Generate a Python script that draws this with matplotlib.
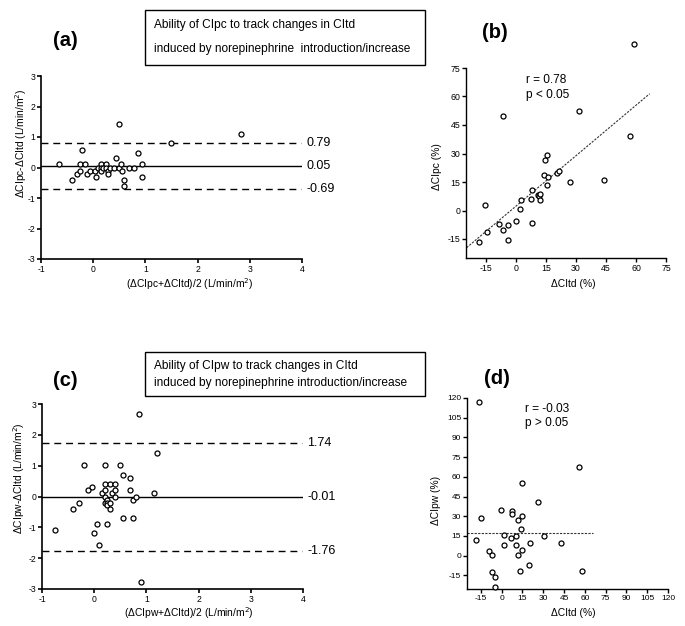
import matplotlib
matplotlib.use("Agg")
import matplotlib.pyplot as plt
from matplotlib.patches import Rectangle

plt.rcParams['font.family'] = ['Liberation Sans', 'DejaVu Sans']
plt.rcParams['axes.unicode_minus'] = False

# ---------------- data ----------------
# (a) Bland-Altman CIpc vs CItd
a_mean = [-0.66, -0.41, -0.31, -0.26, -0.25, -0.21, -0.16, -0.11, -0.06, 0.04,
          0.05, 0.09, 0.14, 0.14, 0.14, 0.19, 0.24, 0.24, 0.28, 0.29,
          0.33, 0.39, 0.44, 0.49, 0.53, 0.55, 0.49, 0.59, 0.59, 0.69,
          0.79, 0.85, 0.94, 0.94, 1.49, 2.84]
a_diff = [0.10, -0.41, -0.20, -0.10, 0.10, 0.59, 0.10, -0.20, -0.10, -0.10,
          -0.30, 0.00, 0.10, 0.00, -0.10, 0.00, 0.10, 0.00, -0.10, -0.20,
          0.00, 0.00, 0.30, 0.00, 0.10, -0.10, 1.41, -0.41, -0.61, 0.00,
          0.00, 0.49, 0.10, -0.30, 0.80, 1.10]
a_bias, a_upper, a_lower = 0.05, 0.79, -0.69

# (b) correlation dCItd vs dCIpc (%)
b_x = [-18.4, -15.7, -14.6, -8.3, -6.5, -6.4, -4.1, -3.9, 0.0, 2.0,
       2.6, 7.5, 8.0, 8.0, 10.8, 11.5, 12.1, 12.1, 13.9, 14.3,
       15.3, 15.4, 15.9, 20.4, 21.6, 26.9, 31.6, 44.0, 56.8, 59.1]
b_y = [-16.4, 3.0, -11.1, -7.3, -10.3, 49.7, -7.8, -15.3, -5.4, 0.9,
       5.4, 6.1, -6.8, 11.0, 7.9, 7.4, 5.4, 8.9, 18.7, 26.7,
       29.1, 13.4, 17.4, 20.0, 20.8, 15.0, 52.6, 16.2, 39.4, 87.5]
b_fit_slope, b_fit_intercept, b_fit_range = 0.885, 2.3, (-24.7, 66.8)
b_r, b_p = "r = 0.78", "p < 0.05"

# (c) Bland-Altman CIpw vs CItd
c_mean = [-0.75, -0.40, -0.30, -0.20, -0.11, -0.05, 0.00, 0.05, 0.10, 0.15,
          0.20, 0.20, 0.20, 0.20, 0.20, 0.25, 0.25, 0.25, 0.25, 0.30,
          0.30, 0.30, 0.34, 0.39, 0.39, 0.39, 0.49, 0.55, 0.55, 0.69,
          0.69, 0.74, 0.74, 0.80, 0.85, 0.90, 1.15, 1.20]
c_diff = [-1.09, -0.40, -0.20, 1.01, 0.21, 0.31, -1.19, -0.89, -1.58, 0.11,
          0.21, 0.41, 1.01, 0.00, -0.20, -0.10, -0.20, -0.29, -0.89, 0.41,
          -0.20, -0.39, 0.11, 0.41, 0.21, 0.00, 1.01, 0.69, -0.69, 0.60,
          0.21, -0.10, -0.69, 0.00, 2.69, -2.78, 0.11, 1.40]
c_bias, c_upper, c_lower = -0.01, 1.74, -1.76

# (d) correlation dCItd vs dCIpw (%)
d_x = [-16.5, -15.1, -18.6, -8.9, -7.0, -7.0, -4.9, -4.9, -0.5, 1.4,
       1.8, 6.5, 7.2, 7.2, 10.3, 10.6, 11.5, 11.5, 13.2, 13.9,
       14.6, 14.9, 15.0, 19.6, 20.8, 26.1, 30.6, 42.8, 55.7, 58.1]
d_y = [117.3, 28.4, 11.9, 3.8, 0.2, -12.4, -16.5, -23.8, 35.0, 16.0,
       8.1, 13.5, 34.0, 32.0, 15.2, 7.9, 26.9, 0.2, -11.7, 20.5,
       30.2, 4.3, 55.1, -6.9, 9.9, 40.6, 15.2, 9.5, 67.5, -11.9]
d_fit_slope, d_fit_intercept, d_fit_range = 0.0, 17.3, (-25.0, 65.8)
d_r, d_p = "r = -0.03", "p > 0.05"

ba_xticks = [-1, 0, 1, 2, 3, 4]
ba_yticks = [-3, -2, -1, 0, 1, 2, 3]
b_ticks = [-15, 0, 15, 30, 45, 60, 75]
d_xticks = [-15, 0, 15, 30, 45, 60, 75, 90, 105, 120]
d_yticks = [-15, 0, 15, 30, 45, 60, 75, 90, 105, 120]

# ---------------- figure ----------------
W, H = 685, 626
fig = plt.figure(figsize=(W / 100, H / 100), dpi=100)


def rect(l, t, r, b):
    return [l / W, 1 - b / H, (r - l) / W, (b - t) / H]


def fpos(x, y):
    return (x / W, 1 - y / H)


def style(ax, lw=1.2, ls=6.2):
    for s in ['top', 'right']:
        ax.spines[s].set_visible(False)
    for s in ['left', 'bottom']:
        ax.spines[s].set_linewidth(lw)
    ax.tick_params(direction='out', length=3, width=lw, labelsize=ls, pad=1.2, colors='black')


mk = dict(marker='o', linestyle='none', markersize=3.6, markerfacecolor='white',
          markeredgecolor='black', markeredgewidth=0.9)


def bland(ax, xs, ys, bias, up, lo):
    ax.plot(xs, ys, clip_on=False, zorder=3, **mk)
    ax.plot([-1, 3.98], [bias, bias], color='black', lw=1.0)
    for v in (up, lo):
        ax.plot([-1, 3.98], [v, v], color='black', lw=1.0, linestyle=(0, (5, 3.5)))
    ax.set_xlim(-1, 4)
    ax.set_ylim(-3, 3)
    ax.set_xticks(ba_xticks)
    ax.set_yticks(ba_yticks)
    style(ax)
    for v in (up, bias, lo):
        ax.text(4.08, v, f"{v:.2f}", fontsize=9, va='center', ha='left', clip_on=False)


# (a)
axa = fig.add_axes(rect(41, 76, 302, 259))
bland(axa, a_mean, a_diff, a_bias, a_upper, a_lower)
fig.text(*fpos(21, 143), "ΔCIpc-ΔCItd (L/min/m$^2$)", rotation=90, fontsize=7.4,
         ha='center', va='center')
fig.text(*fpos(190, 284), "(ΔCIpc+ΔCItd)/2 (L/min/m$^2$)", fontsize=7.4, ha='center', va='center')

# (c)
axc = fig.add_axes(rect(42, 404, 303, 589))
bland(axc, c_mean, c_diff, c_bias, c_upper, c_lower)
fig.text(*fpos(19, 478), "ΔCIpw-ΔCItd (L/min/m$^2$)", rotation=90, fontsize=7.4,
         ha='center', va='center')
fig.text(*fpos(189, 613), "(ΔCIpw+ΔCItd)/2 (L/min/m$^2$)", fontsize=7.4, ha='center', va='center')

# (b)
axb = fig.add_axes(rect(466, 68, 666, 258))
axb.plot(b_x, b_y, clip_on=False, zorder=3, **mk)
xs = list(b_fit_range)
axb.plot(xs, [b_fit_slope * v + b_fit_intercept for v in xs], color='#333333', lw=0.8,
         linestyle=(0, (2, 1.2)))
axb.set_xlim(-25, 75)
axb.set_ylim(-25, 75)
axb.set_xticks(b_ticks)
axb.set_yticks(b_ticks)
style(axb, 1.0, 6.3)
axb.text(5.2, 68.5, b_r, fontsize=8.6, va='center')
axb.text(5.2, 61.0, b_p, fontsize=8.6, va='center')
fig.text(*fpos(437, 167), "ΔCIpc (%)", rotation=90, fontsize=7.4, ha='center', va='center')
fig.text(*fpos(573, 284), "ΔCItd (%)", fontsize=7.4, ha='center', va='center')

# (d)
axd = fig.add_axes(rect(467, 398, 668, 589))
axd.plot(d_x, d_y, clip_on=False, zorder=3, **mk)
xs = list(d_fit_range)
axd.plot(xs, [d_fit_slope * v + d_fit_intercept for v in xs], color='#333333', lw=0.8,
         linestyle=(0, (2, 1.2)))
axd.set_xlim(-25, 120)
axd.set_ylim(-25.4, 120)
axd.set_xticks(d_xticks)
axd.set_yticks(d_yticks)
style(axd, 1.0, 6.0)
axd.text(17.2, 111.7, d_r, fontsize=8.6, va='center')
axd.text(17.2, 101.0, d_p, fontsize=8.6, va='center')
fig.text(*fpos(436, 500), "ΔCIpw (%)", rotation=90, fontsize=7.4, ha='center', va='center')
fig.text(*fpos(573, 613), "ΔCItd (%)", fontsize=7.4, ha='center', va='center')

# panel letters
for lab, (x, y) in {"(a)": (65, 41), "(b)": (495, 32), "(c)": (65, 380), "(d)": (497, 378)}.items():
    fig.text(*fpos(x, y), lab, fontsize=14.5, fontweight='bold', ha='center', va='center')


# text boxes
def tbox(top, bottom, l1, y1, l2, y2):
    fig.patches.append(Rectangle(fpos(145, bottom), 280 / W, (bottom - top) / H,
                                 transform=fig.transFigure, fill=False, lw=1.0,
                                 edgecolor='black'))
    fig.text(*fpos(154, y1), l1, fontsize=8.6, va='center', ha='left')
    fig.text(*fpos(154, y2), l2, fontsize=8.6, va='center', ha='left')


tbox(10, 65, "Ability of CIpc to track changes in CItd", 25,
     "induced by norepinephrine  introduction/increase", 49)
tbox(352, 396, "Ability of CIpw to track changes in CItd", 366,
     "induced by norepinephrine introduction/increase", 383)

fig.savefig("out.png", dpi=100)
